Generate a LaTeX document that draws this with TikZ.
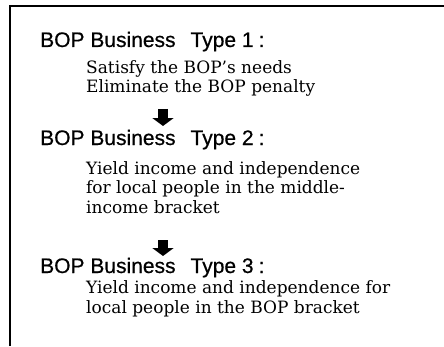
\documentclass[tikz,border=0pt]{standalone}
\usepackage{fontspec}
\newfontfamily\headfont[FakeBold=0.6]{Liberation Sans}
\setmainfont{DejaVu Serif}
\usetikzlibrary{arrows.meta}

\begin{document}
\begin{tikzpicture}[x=1pt,y=1pt,
  head/.style={anchor=base west,inner sep=0pt,font=\headfont\fontsize{21}{21}\selectfont},
  body/.style={anchor=base west,inner sep=0pt,align=left,font=\rmfamily\fontsize{17}{19.5}\selectfont},
  down/.style={-{Triangle[width=21pt,length=8pt]},line width=10pt}]
  \useasboundingbox (0,0) rectangle (444,346);
  \draw[line width=2pt] (10,0) -- (10,339.5) -- (444,339.5);
  % type 1
  \node[head] (type1) at (40,299) {BOP Business\hspace{15pt}Type 1\hspace{5pt}:};
  \node[body] (need1) at (86,253) {Satisfy the BOP's needs\\Eliminate the BOP penalty};
  \coordinate (go1) at (163,237);
  \coordinate (to1) at (163,220);
  \draw[down] (go1) -- (to1);
  % type 2
  \node[head] (type2) at (40,201) {BOP Business\hspace{15pt}Type 2\hspace{5pt}:};
  \node[body] (need2) at (86,133) {Yield income and independence\\for local people in the middle-\\income bracket};
  \coordinate (go2) at (163,106);
  \coordinate (to2) at (163,90);
  \draw[down] (go2) -- (to2);
  % type 3
  \node[head] (type3) at (40,73) {BOP Business\hspace{15pt}Type 3\hspace{5pt}:};
  \node[body] (need3) at (86,33) {Yield income and independence for\\local people in the BOP bracket};
\end{tikzpicture}
\end{document}
